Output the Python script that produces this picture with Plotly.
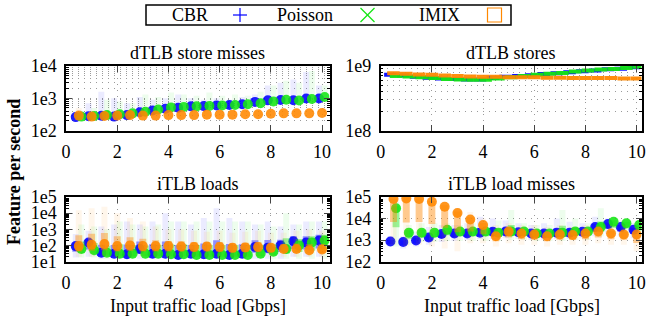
import plotly.graph_objects as go

# ---------------- data ----------------
LOADS = [0.5, 1.0, 1.5, 2.0, 2.5, 3.0, 3.5, 4.0, 4.5, 5.0,
         5.5, 6.0, 6.5, 7.0, 7.5, 8.0, 8.5, 9.0, 9.5, 10.0]
SERIES = ["CBR", "Poisson", "IMIX"]
PANEL_TITLES = ["dTLB store misses", "dTLB stores", "iTLB loads", "iTLB load misses"]
X_TICKS = [0, 2, 4, 6, 8, 10]
X_TICK_LABELS = ["0", "2", "4", "6", "8", "10"]
X_TITLE = "Input traffic load [Gbps]"
Y_TITLE = "Feature per second"

Y_TICKS_A = [1e2, 1e3, 1e4]
Y_LABELS_A = ["1e2", "1e3", "1e4"]
Y_TICKS_B = [1e8, 1e9]
Y_LABELS_B = ["1e8", "1e9"]
Y_TICKS_C = [1e1, 1e2, 1e3, 1e4, 1e5]
Y_LABELS_C = ["1e1", "1e2", "1e3", "1e4", "1e5"]
Y_TICKS_D = [1e2, 1e3, 1e4, 1e5]
Y_LABELS_D = ["1e2", "1e3", "1e4", "1e5"]

# dTLB store misses
a_cbr_mid = [260, 275, 285, 270, 300, 370, 420, 475, 510, 560, 570, 600, 620, 650, 770, 860, 880, 870, 980, 980]
a_cbr_lo = [230, 230, 240, 230, 250, 310, 350, 400, 430, 470, 480, 500, 520, 540, 620, 700, 700, 700, 780, 780]
a_cbr_hi = [380, 700, 1600, 1000, 700, 1100, 900, 1000, 1300, 1000, 900, 1000, 900, 1100, 1300, 2500, 3000, 3800, 6500, 2500]
a_poi_mid = [270, 280, 300, 320, 340, 380, 450, 520, 540, 560, 580, 600, 620, 650, 700, 800, 900, 850, 950, 1100]
a_poi_lo = [240, 240, 250, 270, 290, 320, 380, 440, 460, 470, 490, 500, 520, 540, 580, 650, 700, 700, 750, 850]
a_poi_hi = [350, 500, 900, 800, 700, 1300, 1100, 1500, 1300, 1200, 1500, 1200, 1300, 1200, 1600, 2500, 3500, 3000, 7000, 2500]
a_imx_mid = [290, 270, 280, 290, 300, 290, 290, 300, 300, 300, 310, 310, 310, 320, 320, 330, 340, 340, 340, 350]
a_imx_lo = [250, 240, 240, 250, 260, 250, 250, 260, 260, 260, 270, 270, 270, 280, 280, 290, 290, 290, 290, 300]
a_imx_hi = [500, 400, 380, 380, 400, 380, 380, 390, 390, 400, 400, 400, 410, 420, 420, 430, 440, 450, 450, 460]

# dTLB stores
b_cbr_mid = [7.3e8, 7.1e8, 6.8e8, 6.6e8, 6.4e8, 6.3e8, 6.2e8, 6.2e8, 6.5e8, 6.8e8,
             7.0e8, 7.2e8, 7.5e8, 7.7e8, 8.0e8, 8.3e8, 8.5e8, 8.9e8, 9.1e8, 9.6e8]
b_poi_mid = [7.0e8, 6.9e8, 6.7e8, 6.5e8, 6.3e8, 6.2e8, 6.1e8, 6.1e8, 6.4e8, 6.7e8,
             7.0e8, 7.3e8, 7.6e8, 7.8e8, 8.2e8, 8.5e8, 8.8e8, 9.0e8, 9.3e8, 9.7e8]
b_imx_mid = [7.7e8, 7.6e8, 7.4e8, 7.3e8, 7.1e8, 7.0e8, 6.9e8, 6.8e8, 6.8e8, 6.7e8,
             6.7e8, 6.7e8, 6.6e8, 6.6e8, 6.5e8, 6.5e8, 6.5e8, 6.5e8, 6.4e8, 6.4e8]

# iTLB loads
c_cbr_mid = [90, 150, 35, 30, 28, 60, 30, 30, 25, 30, 28, 30, 25, 30, 80, 70, 100, 180, 150, 200]
c_cbr_lo = [18, 20, 15, 15, 15, 15, 15, 15, 15, 15, 15, 15, 15, 15, 15, 15, 15, 20, 20, 20]
c_cbr_hi = [500, 800, 1500, 2000, 3000, 2000, 3000, 10000, 3000, 2000, 5000, 20000, 5000, 3000, 2000, 3000, 1500, 2000, 3000, 3000]
c_poi_mid = [60, 50, 35, 30, 30, 30, 30, 28, 28, 25, 25, 25, 25, 25, 30, 40, 60, 100, 150, 200]
c_poi_lo = [18, 18, 15, 15, 15, 15, 15, 15, 15, 15, 15, 15, 15, 15, 15, 15, 15, 15, 15, 15]
c_poi_hi = [2000, 1500, 1000, 3000, 2000, 1500, 2000, 3000, 3000, 3000, 3000, 3000, 3000, 3000, 2000, 1500, 10000, 2000, 3000, 3000]
c_imx_mid = [90, 110, 120, 90, 100, 90, 90, 90, 85, 80, 85, 80, 70, 75, 80, 70, 60, 60, 50, 55]
c_imx_lo = [20, 20, 20, 20, 20, 20, 20, 20, 20, 20, 20, 20, 20, 20, 20, 20, 20, 20, 20, 20]
c_imx_hi = [15000, 20000, 25000, 10000, 5000, 3000, 1500, 1000, 1000, 800, 700, 800, 600, 700, 800, 600, 600, 800, 1000, 800]

# iTLB load misses
d_cbr_mid = [850, 800, 950, 1300, 1900, 2000, 2000, 2200, 2400, 2500, 2300, 2000, 2000, 2200, 2200, 2400, 4000, 5500, 4000, 3000]
d_cbr_lo = [500, 400, 500, 600, 800, 900, 1000, 1100, 1100, 1200, 1100, 1000, 1000, 1100, 1100, 1200, 1500, 2000, 1500, 1200]
d_cbr_hi = [1500, 1500, 2500, 4000, 5000, 5000, 6000, 12000, 10000, 8000, 6000, 5000, 6000, 10000, 7000, 6000, 12000, 10000, 8000, 6000]
d_poi_mid = [3.0e4, 2200, 2200, 2200, 3000, 2500, 2500, 2500, 2200, 2500, 2500, 2000, 2000, 2200, 2500, 2500, 4000, 7000, 6000, 5000]
d_poi_lo = [500, 600, 800, 800, 900, 900, 900, 900, 900, 1000, 1000, 900, 900, 900, 1000, 1000, 1500, 2000, 2000, 1500]
d_poi_hi = [6e4, 5000, 6000, 6000, 6000, 5000, 6000, 6000, 8000, 2.5e4, 6000, 5000, 5000, 2.5e4, 1e4, 6000, 3e4, 1.2e4, 1e4, 8000]
d_imx_mid = [8e4, 8.5e4, 8e4, 6e4, 3.5e4, 1.8e4, 9000, 5000, 1500, 2500, 2000, 1800, 1500, 1800, 1700, 2000, 2500, 2000, 1800, 1800]
d_imx_lo = [600, 500, 600, 500, 400, 300, 700, 700, 500, 700, 600, 600, 500, 600, 600, 600, 700, 600, 600, 300]
d_imx_hi = [9e4, 9e4, 9e4, 8e4, 6e4, 3e4, 2e4, 1e4, 5000, 6000, 5000, 5000, 4000, 5000, 4000, 5000, 5000, 5000, 5000, 4000]

# ---------------- style ----------------
W, H = 648, 320
FONT = "Liberation Serif"
COLORS = {"CBR": (0, 0, 255), "Poisson": (20, 230, 20), "IMIX": (255, 136, 0)}
XOFF = {"CBR": -0.12, "Poisson": 0.10, "IMIX": 0.0}
GRID_COL = "#9a9a9a"
GRID_DASH = "1px,5px"


def px(x):
    return x / W


def py(y):
    return 1 - y / H


def rgba(c, a):
    return f"rgba({c[0]},{c[1]},{c[2]},{a})"


# panel geometry in pixels: (left, right, top, bottom)
PANELS = [
    dict(box=(66, 329.5, 66, 130.5), xr=[0, 10.29], yr=[2, 4], tv=Y_TICKS_A, tt=Y_LABELS_A, minor_grid=True, core=False, dash=False,
         data={"CBR": (a_cbr_mid, a_cbr_lo, a_cbr_hi), "Poisson": (a_poi_mid, a_poi_lo, a_poi_hi), "IMIX": (a_imx_mid, a_imx_lo, a_imx_hi)}),
    dict(box=(380.7, 641.5, 66, 130.5), xr=[0, 10.19], yr=[8, 9], tv=Y_TICKS_B, tt=Y_LABELS_B, minor_grid=True, core=False, dash=True,
         data={"CBR": (b_cbr_mid, None, None), "Poisson": (b_poi_mid, None, None), "IMIX": (b_imx_mid, None, None)}),
    dict(box=(66, 329.5, 197, 261.5), xr=[0, 10.29], yr=[1, 5], tv=Y_TICKS_C, tt=Y_LABELS_C, minor_grid=False, core=True, dash=False,
         data={"CBR": (c_cbr_mid, c_cbr_lo, c_cbr_hi), "Poisson": (c_poi_mid, c_poi_lo, c_poi_hi), "IMIX": (c_imx_mid, c_imx_lo, c_imx_hi)}),
    dict(box=(380.7, 641.5, 197, 261.5), xr=[0, 10.19], yr=[2, 5], tv=Y_TICKS_D, tt=Y_LABELS_D, minor_grid=False, core=True, dash=False,
         data={"CBR": (d_cbr_mid, d_cbr_lo, d_cbr_hi), "Poisson": (d_poi_mid, d_poi_lo, d_poi_hi), "IMIX": (d_imx_mid, d_imx_lo, d_imx_hi)}),
]

fig = go.Figure()
layout = dict(width=W, height=H, margin=dict(l=0, r=0, t=0, b=0, autoexpand=False),
              paper_bgcolor="white", plot_bgcolor="white", showlegend=False,
              font=dict(family=FONT, size=18, color="black"))
annotations = []
shapes = []

for i, p in enumerate(PANELS):
    n = "" if i == 0 else str(i + 1)
    xa, ya = "x" + n, "y" + n
    l, r, t, b = p["box"]
    layout["xaxis" + n] = dict(
        domain=[px(l), px(r)], range=p["xr"], anchor=ya,
        tickvals=X_TICKS, ticktext=X_TICK_LABELS, ticks="inside", ticklen=6, tickwidth=1,
        showline=True, linecolor="black", linewidth=1.5, mirror="ticks",
        showgrid=True, gridcolor=GRID_COL, griddash=GRID_DASH, gridwidth=1,
        zeroline=False, ticklabelstandoff=4, tickfont=dict(size=18),
    )
    layout["yaxis" + n] = dict(
        domain=[py(b), py(t)], type="log", range=p["yr"], anchor=xa,
        tickvals=p["tv"], ticktext=p["tt"], ticks="inside", ticklen=6, tickwidth=1,
        showline=True, linecolor="black", linewidth=1.5, mirror="ticks",
        showgrid=True, gridcolor=GRID_COL, griddash=GRID_DASH, gridwidth=1,
        zeroline=False, ticklabelstandoff=4, tickfont=dict(size=18),
        minor=dict(ticks="inside", ticklen=3, tickwidth=1, tickcolor="black", dtick="D1",
                   showgrid=p["minor_grid"], gridcolor=GRID_COL, griddash=GRID_DASH, gridwidth=1),
    )
    for s in SERIES:
        mid, lo, hi = p["data"][s]
        c = COLORS[s]
        xs = [v + XOFF[s] for v in LOADS]
        if lo is not None:
            # sparse cloud extent
            fig.add_trace(go.Scatter(
                x=xs, y=mid, xaxis=xa, yaxis=ya, mode="markers", hoverinfo="skip",
                marker=dict(size=1, color=rgba(c, 0)),
                error_y=dict(type="data", symmetric=False,
                             array=[h - m for h, m in zip(hi, mid)],
                             arrayminus=[m - q for m, q in zip(mid, lo)],
                             color=rgba(c, 0.08), thickness=6, width=0)))
            if p["core"]:
                chi = [m * (h / m) ** 0.3 for m, h in zip(mid, hi)]
                clo = [m * (q / m) ** 0.5 for m, q in zip(mid, lo)]
                fig.add_trace(go.Scatter(
                    x=xs, y=mid, xaxis=xa, yaxis=ya, mode="markers", hoverinfo="skip",
                    marker=dict(size=1, color=rgba(c, 0)),
                    error_y=dict(type="data", symmetric=False,
                                 array=[h - m for h, m in zip(chi, mid)],
                                 arrayminus=[m - q for m, q in zip(mid, clo)],
                                 color=rgba(c, 0.4), thickness=7, width=0)))
        if p["dash"]:
            marker = dict(symbol="line-ew", size=9, line=dict(width=4, color=rgba(c, 0.95)))
        else:
            marker = dict(symbol="circle", size=10, color=rgba(c, 0.88), line=dict(width=0))
        fig.add_trace(go.Scatter(x=xs, y=mid, xaxis=xa, yaxis=ya, mode="markers",
                                 marker=marker, name=s, hoverinfo="skip"))
    # panel title
    annotations.append(dict(text=PANEL_TITLES[i], x=px((l + r) / 2), y=py(t - 13.5), xref="paper", yref="paper",
                            xanchor="center", yanchor="middle", showarrow=False, font=dict(size=18)))

# axis titles
for cx in (198, 512):
    annotations.append(dict(text=X_TITLE, x=px(cx), y=py(306), xref="paper", yref="paper",
                            xanchor="center", yanchor="middle", showarrow=False, font=dict(size=18)))
annotations.append(dict(text="<b>" + Y_TITLE + "</b>", x=px(14), y=py(172), xref="paper", yref="paper",
                        textangle=-90, xanchor="center", yanchor="middle", showarrow=False, font=dict(size=18)))

# legend (gnuplot style: text then sample)
LEG_Y = 15
shapes.append(dict(type="rect", xref="paper", yref="paper", x0=px(146), x1=px(511), y0=py(5), y1=py(25),
                   line=dict(color="black", width=1.5)))
for s, tx, sx in (("CBR", 210, 240), ("Poisson", 335, 367.5), ("IMIX", 462, 494.5)):
    annotations.append(dict(text=s, x=px(tx), y=py(LEG_Y), xref="paper", yref="paper",
                            xanchor="right", yanchor="middle", showarrow=False, font=dict(size=18)))
    col = rgba(COLORS[s], 1)
    hs = 7
    if s == "CBR":
        shapes.append(dict(type="line", xref="paper", yref="paper", x0=px(sx - hs), x1=px(sx + hs), y0=py(LEG_Y), y1=py(LEG_Y), line=dict(color=col, width=1.2)))
        shapes.append(dict(type="line", xref="paper", yref="paper", x0=px(sx), x1=px(sx), y0=py(LEG_Y - hs), y1=py(LEG_Y + hs), line=dict(color=col, width=1.2)))
    elif s == "Poisson":
        shapes.append(dict(type="line", xref="paper", yref="paper", x0=px(sx - hs), x1=px(sx + hs), y0=py(LEG_Y - hs), y1=py(LEG_Y + hs), line=dict(color=col, width=1.2)))
        shapes.append(dict(type="line", xref="paper", yref="paper", x0=px(sx - hs), x1=px(sx + hs), y0=py(LEG_Y + hs), y1=py(LEG_Y - hs), line=dict(color=col, width=1.2)))
    else:
        shapes.append(dict(type="rect", xref="paper", yref="paper", x0=px(sx - hs), x1=px(sx + hs), y0=py(LEG_Y - hs), y1=py(LEG_Y + hs), line=dict(color=col, width=1.2)))

layout["annotations"] = annotations
layout["shapes"] = shapes
fig.update_layout(**layout)
fig.write_html("out.html", config={"displayModeBar": False},
               post_script="document.body.style.margin='0';document.body.style.overflow='hidden';")
